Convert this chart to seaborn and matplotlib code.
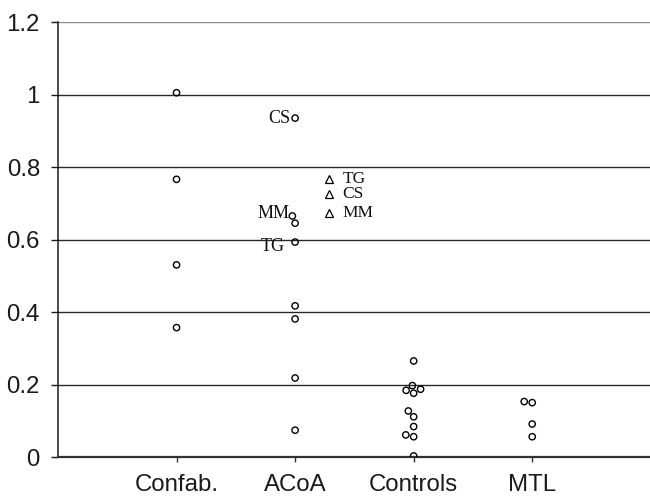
import numpy as np
import pandas as pd
import matplotlib
matplotlib.use("Agg")
import matplotlib.pyplot as plt
import seaborn as sns

# ---- data ----
categories = ["Confab.", "ACoA", "Controls", "MTL"]
confab_vals = [1.005, 0.766, 0.530, 0.357]
acoa_vals = [0.935, 0.665, 0.645, 0.593, 0.417, 0.381, 0.218, 0.074]
controls_vals = [0.265, 0.197, 0.184, 0.187, 0.176, 0.127, 0.111, 0.084, 0.061, 0.056, 0.003]
mtl_vals = [0.150, 0.153, 0.091, 0.056]

# labelled ACoA circles
acoa_labels = ["CS", "MM", "TG"]
acoa_label_vals = [0.935, 0.665, 0.593]

# ACoA triangles (second measurement)
tri_labels = ["TG", "CS", "MM"]
tri_vals = [0.766, 0.725, 0.672]

yticks = [0, 0.2, 0.4, 0.6, 0.8, 1.0, 1.2]

df = pd.DataFrame({
    "group": (["Confab."] * len(confab_vals) + ["ACoA"] * len(acoa_vals)
              + ["Controls"] * len(controls_vals) + ["MTL"] * len(mtl_vals)),
    "value": confab_vals + acoa_vals + controls_vals + mtl_vals,
})

sns.set_theme(style="white")
plt.rcParams["font.family"] = ["Liberation Sans", "DejaVu Sans"]

fig = plt.figure(figsize=(6.5, 4.96), dpi=100)
ax = fig.add_axes([0.0892, 0.0786, 0.912, 0.877])

sns.swarmplot(data=df, x="group", y="value", order=categories, ax=ax,
              color="black", size=4.55, linewidth=1.0, zorder=3)
for coll in ax.collections:
    coll.set_facecolor("none")
    coll.set_edgecolor("black")
    coll.set_linewidth(1.0)

acoa_idx = categories.index("ACoA")
tri_x = np.full(len(tri_vals), acoa_idx + 0.29)
ax.plot(tri_x, tri_vals, linestyle="none", marker="^", markersize=5.5,
        markerfacecolor="none", markeredgecolor="black", markeredgewidth=0.9, zorder=3)
for lab, v in zip(tri_labels, tri_vals):
    ax.annotate(lab, (acoa_idx + 0.29, v), xytext=(9.5, 0), textcoords="offset points",
                ha="left", va="center", fontsize=12.5, family="Liberation Serif",
                color="#111")

label_offsets = {"CS": (-3.5, 0), "MM": (-4, 2), "TG": (-7.5, -3)}
for lab, v in zip(acoa_labels, acoa_label_vals):
    ax.annotate(lab, (acoa_idx, v), xytext=label_offsets[lab], textcoords="offset points",
                ha="right", va="center", fontsize=13.0, family="Liberation Serif",
                color="#111")

ax.set_xlim(-1, 4)
ax.set_ylim(0, 1.2)
ax.set_yticks(yticks)
ax.set_yticklabels([f"{t:g}" for t in yticks])
ax.set_xticks(range(len(categories)))
ax.set_xticklabels(categories)
ax.set_xlabel("")
ax.set_ylabel("")

ax.yaxis.grid(True, color="#2a2a2a", linewidth=1.0)
ax.set_axisbelow(True)
ax.get_ygridlines()[-1].set_color("#8a8a8a")

for side in ["top", "right"]:
    ax.spines[side].set_visible(False)
ax.spines["left"].set_color("#1a1a1a")
ax.spines["left"].set_linewidth(1.1)
ax.spines["bottom"].set_color("#333333")
ax.spines["bottom"].set_linewidth(1.6)

ax.tick_params(axis="y", direction="out", length=5, width=1.0, color="#1a1a1a",
               labelsize=17.3, pad=8, labelcolor="#1a1a1a", left=True)
ax.tick_params(axis="x", direction="out", length=3.5, width=1.0, color="#333333",
               labelsize=17.3, pad=8.5, labelcolor="#1a1a1a", bottom=True)

fig.savefig("out.png", dpi=100)
